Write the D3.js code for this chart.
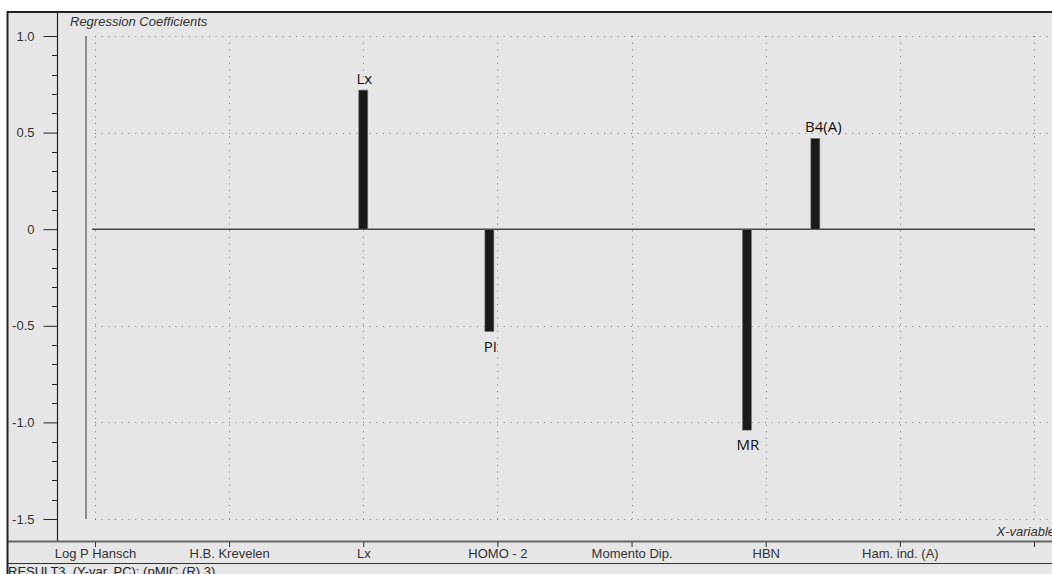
<!DOCTYPE html>
<html>
<head>
<meta charset="utf-8">
<script src="https://cdn.jsdelivr.net/npm/d3@7"></script>
<style>
  html, body { margin: 0; padding: 0; background: #fff; }
  svg { display: block; }
</style>
</head>
<body>
<svg id="chart" width="1052" height="574"></svg>
<script>
// x-variables shown on the axis (last tick has no label)
const categories = ['Log P Hansch', 'H.B. Krevelen', 'Lx', 'HOMO - 2', 'Momento Dip.', 'HBN', 'Ham. ind. (A)', ''];
// coefficient bars: name, position along the x-variable axis, value
const barNames = ['Lx', 'PI', 'MR', 'B4(A)'];
const barPos = [2.0, 2.94, 4.86, 5.37];
const barValues = [0.72, -0.53, -1.04, 0.47];
const yTicks = [1.0, 0.5, 0, -0.5, -1.0, -1.5];

const W = 1052, H = 574;
const svg = d3.select('#chart');
const font = '"Liberation Sans", Arial, sans-serif';

// background panel
svg.append('rect').attr('x', 7).attr('y', 12).attr('width', W - 7).attr('height', H - 12).attr('fill', '#e6e6e6');

const y = d3.scaleLinear().domain([-1.5, 1.0]).range([519, 36]);
const x = d3.scaleLinear().domain([0, categories.length - 1]).range([95, 1034]);

// dotted grid
const grid = svg.append('g').attr('stroke', '#7a7a7a').attr('stroke-width', 1).attr('stroke-dasharray', '1,5.7');
grid.selectAll('line.h')
  .data(yTicks.filter(d => d !== 0))
  .enter().append('line')
  .attr('x1', 95).attr('x2', W)
  .attr('y1', d => Math.round(y(d)) + 0.5).attr('y2', d => Math.round(y(d)) + 0.5);
grid.selectAll('line.v')
  .data(d3.range(categories.length))
  .enter().append('line')
  .attr('x1', d => Math.round(x(d)) + 0.5).attr('x2', d => Math.round(x(d)) + 0.5)
  .attr('y1', 36).attr('y2', 519);

// inner grey y line
svg.append('line').attr('x1', 86).attr('x2', 86).attr('y1', 36).attr('y2', 519)
  .attr('stroke', '#8c8c8c').attr('stroke-width', 2);

// y axis
const yAxis = d3.axisLeft(y).tickValues(yTicks).tickSize(14).tickPadding(9)
  .tickFormat(d => d === 0 ? '0' : d.toFixed(1));
const ya = svg.append('g').attr('transform', 'translate(57.5,0)').call(yAxis);
ya.select('.domain').remove();
ya.selectAll('line').attr('stroke', '#222');
ya.selectAll('text').attr('font-family', font).attr('font-size', 13).attr('fill', '#333');
const minor = d3.range(-15, 11).map(d => d / 10).filter(d => Math.abs(d * 2 - Math.round(d * 2)) > 1e-6);
svg.append('g').selectAll('line').data(minor).enter().append('line')
  .attr('x1', 52).attr('x2', 57)
  .attr('y1', d => Math.round(y(d)) + 0.5).attr('y2', d => Math.round(y(d)) + 0.5)
  .attr('stroke', '#222');
svg.append('line').attr('x1', 57.5).attr('x2', 57.5).attr('y1', 12).attr('y2', 541)
  .attr('stroke', '#222').attr('stroke-width', 1.2);

// zero line
svg.append('line').attr('x1', 92).attr('x2', 1035).attr('y1', y(0)).attr('y2', y(0))
  .attr('stroke', '#444').attr('stroke-width', 1.5);

// bars
svg.append('g').selectAll('rect').data(barValues).enter().append('rect')
  .attr('x', (d, i) => x(barPos[i]) - 4.5)
  .attr('width', 9)
  .attr('y', d => y(Math.max(0, d)))
  .attr('height', d => Math.abs(y(d) - y(0)))
  .attr('fill', '#1a1a1a').attr('stroke', '#777').attr('stroke-width', 0.6);

svg.append('g').selectAll('text').data(barValues).enter().append('text')
  .attr('x', (d, i) => x(barPos[i]) + (barNames[i].length > 2 ? 8 : 1))
  .attr('y', d => d > 0 ? y(d) - 6 : y(d) + 20)
  .attr('text-anchor', 'middle')
  .attr('font-family', '"Open Sans", "Noto Sans", sans-serif')
  .attr('font-size', 15).attr('fill', '#111')
  .text((d, i) => barNames[i]);

// titles
svg.append('text').attr('x', 70).attr('y', 26).attr('font-family', font).attr('font-style', 'italic')
  .attr('font-size', 13).attr('fill', '#333').text('Regression Coefficients');
svg.append('text').attr('x', W + 3).attr('y', 536).attr('text-anchor', 'end').attr('font-family', font)
  .attr('font-style', 'italic').attr('font-size', 13).attr('fill', '#333').text('X-variable');

// x axis band
svg.append('line').attr('x1', 7).attr('x2', W).attr('y1', 541.5).attr('y2', 541.5)
  .attr('stroke', '#666').attr('stroke-width', 2);
const xAxis = d3.axisBottom(x).tickValues(d3.range(categories.length)).tickSize(5).tickPadding(2)
  .tickFormat(i => categories[i]);
const xa = svg.append('g').attr('transform', 'translate(0,542)').call(xAxis);
xa.select('.domain').remove();
xa.selectAll('line').attr('stroke', '#333');
xa.selectAll('text').attr('font-family', font).attr('font-size', 13).attr('fill', '#333');
svg.append('line').attr('x1', 7).attr('x2', W).attr('y1', 563.5).attr('y2', 563.5)
  .attr('stroke', '#333').attr('stroke-width', 1);
svg.append('text').attr('x', 8).attr('y', 576).attr('font-family', font).attr('font-size', 13)
  .attr('fill', '#222').text('RESULT3, (Y-var, PC): (pMIC (R) 3)');

// outer frame
svg.append('line').attr('x1', 7).attr('x2', W).attr('y1', 12).attr('y2', 12).attr('stroke', '#222').attr('stroke-width', 2);
svg.append('line').attr('x1', 7.5).attr('x2', 7.5).attr('y1', 11).attr('y2', H).attr('stroke', '#222').attr('stroke-width', 2);
</script>
</body>
</html>
